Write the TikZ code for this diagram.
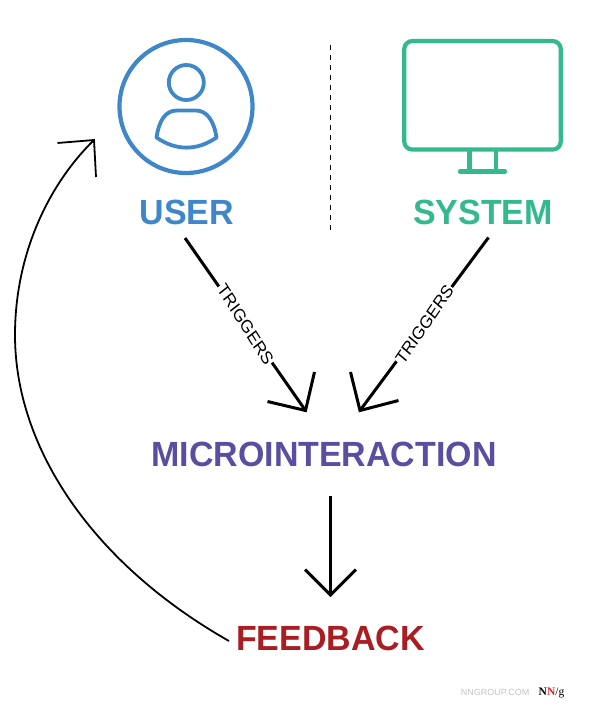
\documentclass[tikz,border=0pt]{standalone}
\usepackage{fontspec}
\setmainfont{Liberation Sans}
\newfontfamily\logoserif{Liberation Serif}
\definecolor{userblue}{HTML}{3F87C8}
\definecolor{sysgreen}{HTML}{33B98D}
\definecolor{micropurple}{HTML}{5A4EA1}
\definecolor{fbred}{HTML}{A81E22}
\definecolor{logogray}{HTML}{C4C4C4}
\definecolor{logored}{HTML}{D8232A}
\tikzset{
  title/.style={inner sep=0pt,xscale=0.97,font=\fontsize{35}{35}\selectfont\bfseries},
  conn/.style={line width=3pt,black,line join=miter},
  trig/.style={fill=white,inner xsep=1pt,inner ysep=0.5pt,xscale=0.9,font=\fontsize{18}{18}\selectfont,text=black},
  bluepen/.style={draw=userblue,line width=4.2pt},
  greenpen/.style={draw=sysgreen,line width=4.2pt},
}
\begin{document}
\begin{tikzpicture}[x=1pt,y=-1pt]
\useasboundingbox (0,0) rectangle (594,723);
% user icon
\node[bluepen,circle,minimum size=133pt,inner sep=0pt] (usericon) at (186,106.5) {};
\node[bluepen,line width=3.8pt,circle,minimum size=35pt,inner sep=0pt] (userhead) at (186.3,82.5) {};
\draw[bluepen,line width=3.8pt,line join=round] (156.5,137.5)
  .. controls (159,121) and (165,110.5) .. (177,110.5) -- (196,110.5)
  .. controls (207,110.5) and (214,121) .. (216.5,137.5)
  .. controls (197,151) and (176,151) .. cycle;
% system icon
\node[greenpen,rounded corners=8pt,minimum width=156.5pt,minimum height=108.5pt,inner sep=0pt] (screen) at (482.5,95.3) {};
\coordinate (legL) at (469.4,149.5);
\coordinate (legR) at (495.6,149.5);
\coordinate (footL) at (469.4,171.5);
\coordinate (footR) at (495.6,171.5);
\coordinate (baseL) at (460,171.5);
\coordinate (baseR) at (505,171.5);
\draw[greenpen] (legL) -- (footL);
\draw[greenpen] (legR) -- (footR);
\draw[greenpen,line cap=round] (baseL) -- (baseR);
% divider
\coordinate (divtop) at (330.5,44.5);
\coordinate (divbot) at (330.5,230);
\draw[black,line width=1pt,dash pattern=on 5.5pt off 4.5pt] (divtop) -- (divbot);
% titles
\node[title,text=userblue] (user) at (187,212) {USER};
\node[title,text=sysgreen] (system) at (483,212) {SYSTEM};
\node[title,text=micropurple] (micro) at (324,454.5) {MICROINTERACTION};
\node[title,text=fbred] (feedback) at (330.5,638) {FEEDBACK};
% trigger arrows
\coordinate (lstart) at (185,238);
\coordinate (ltip) at (305.5,410.5);
\coordinate (lbarbA) at (267.5,401.5);
\coordinate (lbarbB) at (314.5,372);
\draw[conn] (lstart) -- (ltip);
\draw[conn] (lbarbA) -- (ltip) -- (lbarbB);
\node[trig,rotate=-55] (trigL) at (245.5,324.5) {TRIGGERS};
\coordinate (rstart) at (488.5,237.5);
\coordinate (rtip) at (360,410.5);
\coordinate (rbarbA) at (350.5,372);
\coordinate (rbarbB) at (398.5,400.5);
\draw[conn] (rstart) -- (rtip);
\draw[conn] (rbarbA) -- (rtip) -- (rbarbB);
\node[trig,rotate=53] (trigR) at (424.5,324.5) {TRIGGERS};
% down arrow
\coordinate (dstart) at (330.5,496);
\coordinate (dtip) at (330.5,595);
\coordinate (dbarbA) at (305,569.5);
\coordinate (dbarbB) at (356,569.5);
\draw[conn] (dstart) -- (dtip);
\draw[conn] (dbarbA) -- (dtip) -- (dbarbB);
% feedback curve
\coordinate (cstart) at (229,641);
\coordinate (ctip) at (94,140);
\coordinate (cbarbA) at (57.5,143);
\coordinate (cbarbB) at (96,177);
\draw[black,line width=1.8pt] (cstart) .. controls (95,565) and (15,450) .. (15,335)
  .. controls (15,255) and (48,185) .. (ctip);
\draw[black,line width=1.8pt] (cbarbA) -- (ctip) -- (cbarbB);
% logo
\node[anchor=west,inner sep=0pt,text=logogray,font=\fontsize{9}{9}\selectfont] (logotext) at (460.7,692.5) {NNGROUP.COM};
\node[anchor=west,inner sep=0pt,font=\logoserif\fontsize{11.5}{12}\selectfont] (logomark) at (538.5,692.5) {\textbf{N}\textcolor{logored}{\textbf{N}}/g};
\end{tikzpicture}
\end{document}
